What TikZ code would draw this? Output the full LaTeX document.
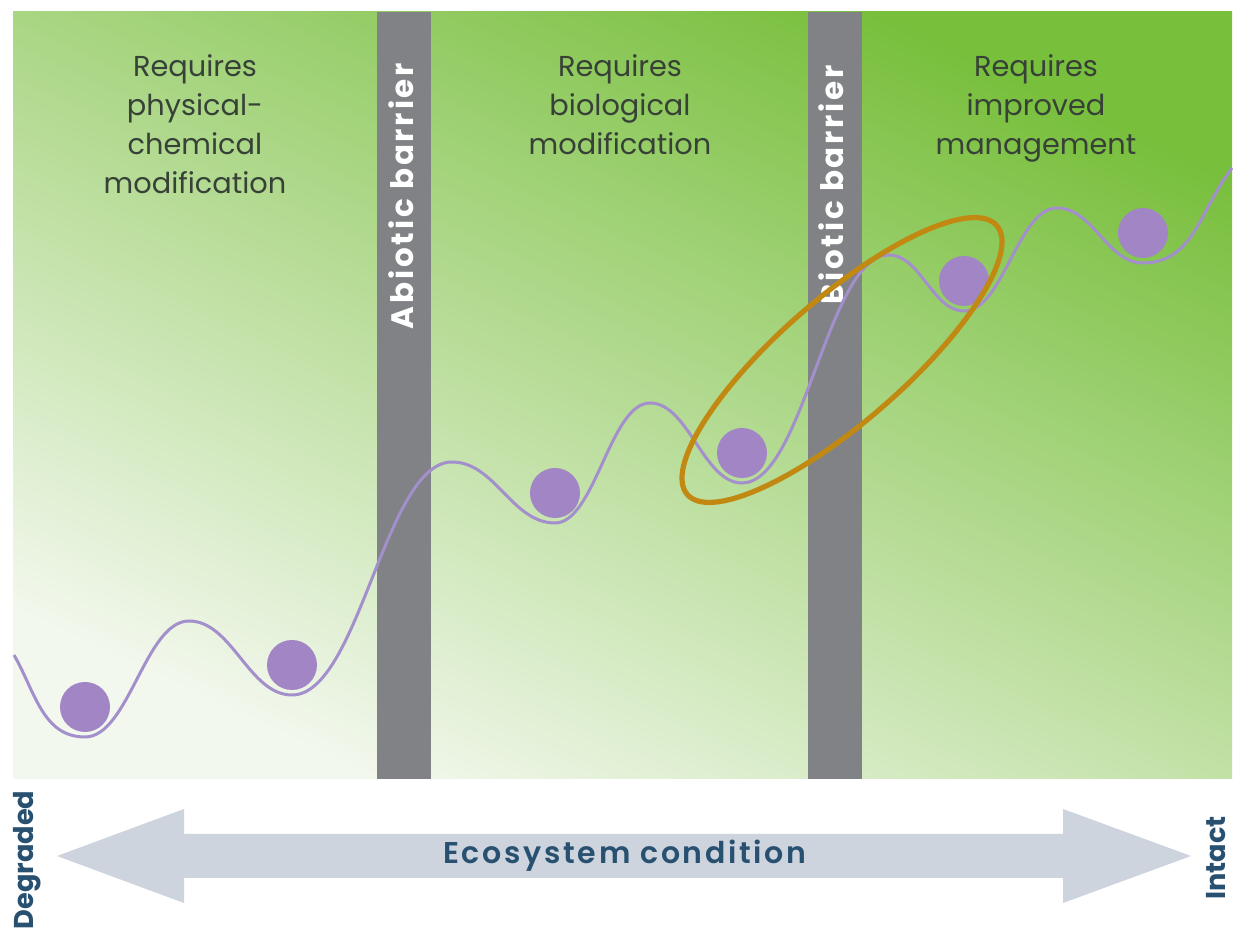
\documentclass[tikz,border=0pt]{standalone}
\usepackage{fontspec}
\setmainfont{Poppins}
\newfontfamily\heavyfont{Poppins SemiBold}[LetterSpace=9]
\usetikzlibrary{positioning,calc}

\definecolor{leaf}{RGB}{120,191,60}
\definecolor{mist}{RGB}{243,248,238}
\definecolor{barrier}{RGB}{128,130,134}
\definecolor{lilac}{RGB}{161,133,196}
\definecolor{lilacline}{RGB}{163,143,203}
\definecolor{ochre}{RGB}{193,137,18}
\definecolor{slate}{RGB}{40,80,112}
\definecolor{band}{RGB}{205,212,222}
\definecolor{inkgrey}{RGB}{55,65,55}

\begin{document}
\begin{tikzpicture}[x=0.5pt, y=-0.5pt,
    wave/.style={to path={.. controls ($(\tikztostart)!0.42!(\tikztotarget|-\tikztostart)$)
        and ($(\tikztotarget)!0.42!(\tikztostart|-\tikztotarget)$) .. (\tikztotarget)}},
    ridge/.style={draw=lilacline, line width=1.5pt},
    ball/.style={circle, fill=lilac, minimum size=25pt, inner sep=0pt, outer sep=0pt},
    ring/.style={draw=ochre, line width=2.6pt},
    need/.style={align=center, anchor=north, inner sep=0pt, text=inkgrey,
        font=\fontsize{14.4}{19.5}\selectfont},
    barlabel/.style={rotate=90, anchor=base, inner sep=0pt, text=white,
        font=\bfseries\addfontfeature{LetterSpace=9}\fontsize{15.5}{18}\selectfont},
    endlabel/.style={rotate=90, anchor=base, inner sep=0pt, text=slate,
        font=\bfseries\fontsize{13.6}{16}\selectfont}]

    \fill[white] (0,0) rectangle (1233,929);
    \useasboundingbox (0,0) rectangle (1233,929);

    % green field and the two barriers
    \shade[top color=leaf, bottom color=mist, shading angle=-25] (13,12) rectangle (1232,779);
    \fill[barrier] (377,12) rectangle (431,779);
    \fill[barrier] (808,12) rectangle (862,779);

    \node[need] (physchem) at (195,54) {Requires\\physical-\\chemical\\modification};
    \node[need] (biomod) at (620,54) {Requires\\biological\\modification};
    \node[need] (mgmt) at (1036,54) {Requires\\improved\\management};

    \node[barlabel] (abiotic) at (413,196) {Abiotic barrier};
    \node[barlabel] (biotic) at (843,185) {Biotic barrier};

    % stability landscape: wells and hills
    \foreach \px/\py [count=\i from 0] in {14/655, 85/737, 189/621, 292/695, 452/462, 555/523,
        650/403, 742/483, 889/255, 964/311, 1057/208, 1143/263, 1232/168}
      \coordinate (k\i) at (\px,\py);

    \draw[ridge] (k0) to[out=-60,in=180] (k1)
      \foreach \i in {2,...,11} { to[wave] (k\i) }
      to[out=0,in=-128] (k12);

    \foreach \i in {1,3,...,11}
      \node[ball, above=2.5pt of k\i] (ball\i) {};

    \draw[ring, rotate around={41:(842,360)}] (842,360) ellipse [x radius=205, y radius=62];

    % condition axis
    \fill[band] (57,856) -- (184,809) -- (184,834) -- (1063,834) -- (1063,809) -- (1191,856)
      -- (1063,903) -- (1063,878) -- (184,878) -- (184,903) -- cycle;
    \node[anchor=base, inner sep=0pt, text=slate, font=\heavyfont\fontsize{15}{18}\selectfont]
      (cond) at (625,864) {Ecosystem condition};
    \node[endlabel] (degraded) at (33,860) {Degraded};
    \node[endlabel] (intact) at (1225,858) {Intact};
\end{tikzpicture}
\end{document}
